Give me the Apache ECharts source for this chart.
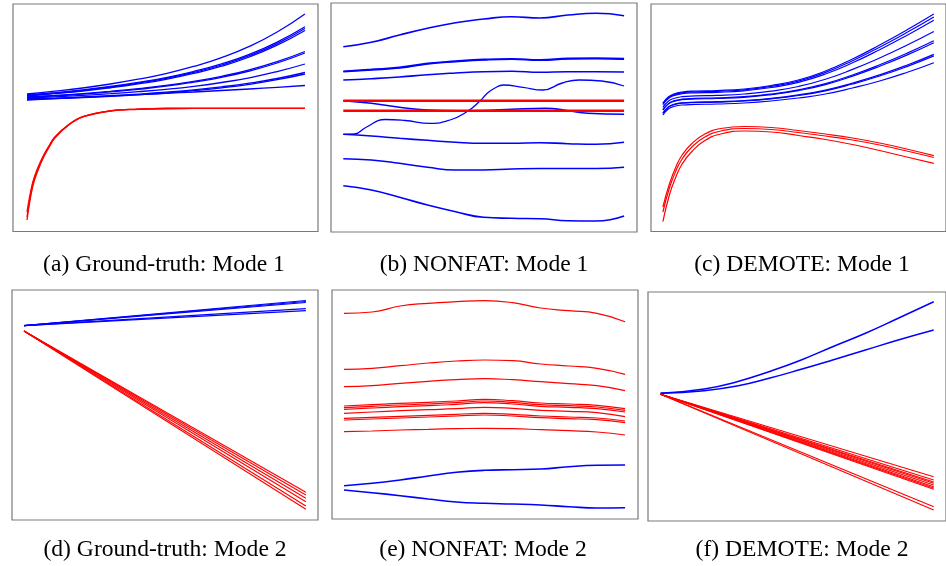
<!DOCTYPE html>
<html><head><meta charset="utf-8">
<script src="https://cdn.jsdelivr.net/npm/echarts@6/dist/echarts.min.js"></script>
<style>html,body{margin:0;padding:0;background:#fff}#c{width:946px;height:566px}</style>
</head><body><div id="c"></div>
<script>
// ---------- captions ----------
const captions = ['(a) Ground-truth: Mode 1','(b) NONFAT: Mode 1','(c) DEMOTE: Mode 1',
                  '(d) Ground-truth: Mode 2','(e) NONFAT: Mode 2','(f) DEMOTE: Mode 2'];

// ---------- panel (a) ----------
const xA_blue = [0,10,20,30,40,50,60,70,80,90,100];
const aBlue = [
 [137,139.8,143,147,151.8,157.4,164.6,173.4,184.6,199,217],
 [136,138.4,141.1,144.5,148.6,153.4,159.6,167.1,176.6,188.9,204.3],
 [135.5,137.8,140.5,143.9,147.9,152.6,158.6,166,175.4,187.4,202.5],
 [135,137.3,139.9,143.2,147.1,151.7,157.6,164.8,174,185.8,200.5],
 [134,135.6,137.4,139.7,142.4,145.6,149.7,154.7,161.1,169.3,179.5],
 [133.5,135.1,136.8,139.1,141.7,144.8,148.9,153.7,160,168,178],
 [133,134.2,135.6,137.3,139.3,141.7,144.7,148.5,153.2,159.4,167],
 [132,132.9,134,135.3,136.9,138.8,141.1,144.1,147.8,152.5,158.5],
 [131.5,132.4,133.4,134.7,136.2,138,140.3,143.1,146.7,151.3,157],
 [131,132.3,133.6,135,136.3,137.7,139,140.5,142,143.7,145.5]
];
const xA_red = [0,2,4,6,8,10,15,20,30,40,50,70,100];
const aRed = [
 [11,44,61,74,84,93,106,114,120,121.7,122.5,122.7,122.7],
 [14,46,62.5,75,85,93.5,106.3,114.2,120.1,121.8,122.5,122.7,122.7],
 [19,48,64,76,85.5,94,106.5,114.4,120.2,121.8,122.5,122.7,122.7]
];

// ---------- panel (b) ----------
const xB = [0,10,20,30,40,50,60,70,80,90,100];
const bBlue = [
 [185.3,189.7,197,203.7,209.3,213,215.3,214,217,218.7,216.3],
 [160.3,162,164,168,170.3,172,172.7,171.7,173,173.3,172.7],
 [160.8,162.6,164.6,168.6,170.9,172.6,173.3,172.3,173.6,174,173.4],
 [152,153.3,155,157.3,159,160.3,160.7,159.7,160.3,160.3,160],
 [97.7,96,93.7,91.7,89.7,88.7,88.7,89.3,88.3,87.7,89.7],
 [73.3,72,68.7,64.7,62,62,63,63.5,63.5,63.5,64.7],
 [46.3,42,34.7,27,20.3,14.7,13.7,13.3,11.3,11,16]
];
const xB_wave1 = [0,10,20,30,40,50,60,72,80,87,100];
const bWave1 = [131.3,128.7,124.7,122,121.3,121.5,122.7,123.7,121.3,118.7,117.7];
const xB_wave2 = [0,4,8,15,22,31,38,44,48.7,51,54,57,64,71,78,84,92,100];
const bWave2 = [97.7,98,104.5,112.5,111.5,108.7,112,120.3,131,138,144,147,144.7,142,149,152,151,146];
const xB_red = [0,100];
const bRed = [[131.3,131.3],[121.3,121.3]];

// ---------- panel (c) ----------
const xC_blue = [0,2,4,7,12,20,30,40,50,60,70,80,90,100];
const cBlue = [
 [129,135,138,140,141,141.5,143,146.5,152,161,173,187,202,218],
 [128.3,134.3,137.2,139.2,140.2,140.7,142.2,145.6,150.9,159.6,171.3,184.8,199.4,215],
 [127.4,133.4,136.4,138.3,139.2,139.7,141.2,144.5,149.7,158,169.2,182.3,196.5,211.7],
 [124.7,130.7,133.5,135.3,136.1,136.6,138,140.9,145.5,152.7,162.6,174,186.7,200.5],
 [122.4,128.4,131.1,132.8,133.6,134.1,135.3,138,142.1,148.3,157,167.2,178.6,191.2],
 [121.9,127.9,130.6,132.3,133,133.5,134.7,137.4,141.4,147.4,155.9,165.8,176.9,189.3],
 [119,125,127.6,129.2,129.8,130.3,131.4,133.6,137.1,141.9,148.9,157.1,166.7,177.6],
 [118.7,124.7,127.2,128.8,129.4,129.9,131,133.2,136.5,141.2,148,156,165.4,176.1],
 [117,123,125.5,127,127.5,128,129,131,134,138,144,151,159.5,169.3]
];
const xC_red = [0,2.4,4.8,7.1,10.7,15.5,21.4,30,40,50,60,70,80,90,100];
const cRed = [
 [25,48,65,77,88.5,98,103.5,105.5,104.5,101.5,98,94,89,83,76.3],
 [20,44,61,73,85,95,101,103.5,102.5,99.5,96,92,87,81,74.5],
 [10.3,37,55,68,80.5,91.5,98,101,100,96.5,92.5,87.5,81.5,75,68.7]
];

// ---------- panel (d) ----------
const xD = [0,100];
const dBlue = [[194.3,219.5],[194.3,218.5],[194.3,217.5],[194.3,211.3],[194.3,209.3]];
const dRed = [[189,27.7],[189,25],[189,21.7],[189,18.3],[189,14],[189,10.7]];

// ---------- panel (e) ----------
const xE = [0,10,20,30,40,50,60,70,80,90,100];
const eRed = [
 [206.7,208,214,216.7,218.3,219.3,217.3,212,209.3,206.7,198.3],
 [150.7,151.7,154.3,157,159,160,159.3,156,154,151.7,145.7],
 [133.3,134.3,136.7,138.7,140.3,141.3,140.3,138.3,136.3,134.3,129.3],
 [114,115.3,116.7,117.7,119,120.7,119.3,117,116,114.7,111.3],
 [112.3,113.6,115,116,117.3,119,117.6,115.3,114.3,113,109.6],
 [110.7,112,113.3,114.3,115.7,117.3,116,113.7,112.7,111.3,108],
 [106.7,108,109.3,110.3,111.3,112.7,111.7,109.7,108.7,107.3,103.3],
 [101.7,102.7,103.7,104.7,105.7,106.7,105.7,104,103,102,99],
 [100,101,102,103,104,105,104,102.3,101.3,100.3,97.3],
 [88.3,89,90,90.7,91.3,91.7,91.3,90.3,89.3,88,85]
];
const eBlue = [
 [34.3,36.7,40,44,47.7,49.7,50.3,51,53.3,54.7,55],
 [30,27.3,24.3,21,18,16.7,16,15,13.3,12,12.3]
];

// ---------- panel (f) ----------
const xF_blue1 = [0,16,28,39.7,51.5,63,75,87,100];
const fBlue1 = [127.7,132,139.3,149.3,161,174.3,187.7,202.7,219.3];
const xF_blue2 = [0,16,28,39.7,51.5,63,75,87,100];
const fBlue2 = [127.7,130.3,135,142.7,151.7,161,171,181,191];
const xF_red = [0,100];
const fRed = [[126.7,44.3],[126.7,41],[126.7,39],[126.7,37.7],[126.7,36],[126.7,34.3],[126.7,33],[126.7,31.7],[126.7,14.3],[126.7,11]];

// ---------- layout (positions / styles) ----------
const layout = [
 {left:13,  top:4,   width:305,   height:227.5, xMin:-5.04, xMax:104.7, yMin:-0.5, yMax:227, cx:164, cy:265},
 {left:331, top:3,   width:306,   height:229,   xMin:-4.38, xMax:104.6, yMin:0,    yMax:229, cx:484, cy:265},
 {left:651, top:4,   width:304.9, height:227.5, xMin:-4.39, xMax:104.5, yMin:0.5,  yMax:228, cx:802, cy:265},
 {left:12,  top:290, width:306,   height:230,   xMin:-4.26, xMax:104.3, yMin:0,    yMax:230, cx:165, cy:549.5},
 {left:332, top:290, width:306,   height:229,   xMin:-4.27, xMax:104.6, yMin:1,    yMax:230, cx:483, cy:549.5},
 {left:648, top:292, width:308.7, height:229,   xMin:-4.6,  xMax:104.5, yMin:0,    yMax:229, cx:802, cy:549.5}
];
const BLUE = '#0000ff', RED = '#ff0000';

function pairs(xs, ys){ return xs.map((x,i)=>[x, ys[i]]); }
const series = [];
function add(p, xs, ys, color, w, smooth){
  series.push({type:'line', xAxisIndex:p, yAxisIndex:p, data:pairs(xs,ys), showSymbol:false, symbol:'none',
    smooth: smooth, silent:true, animation:false,
    lineStyle:{color:color, width:w}});
}
aBlue.forEach(y=>add(0,xA_blue,y,BLUE,1.3,0.5));
aRed.forEach(y=>add(0,xA_red,y,RED,1.3,0.4));
bBlue.forEach(y=>add(1,xB,y,BLUE,1.6,0.5));
add(1,xB_wave1,bWave1,BLUE,1.6,0.5);
add(1,xB_wave2,bWave2,BLUE,1.3,0.5);
bRed.forEach(y=>add(1,xB_red,y,RED,2.4,false));
cBlue.forEach(y=>add(2,xC_blue,y,BLUE,1.2,0.5));
cRed.forEach(y=>add(2,xC_red,y,RED,1.2,0.5));
dBlue.forEach(y=>add(3,xD,y,BLUE,1.2,false));
dRed.forEach(y=>add(3,xD,y,RED,1.1,false));
eRed.forEach(y=>add(4,xE,y,RED,1.2,0.5));
eBlue.forEach(y=>add(4,xE,y,BLUE,1.6,0.5));
add(5,xF_blue1,fBlue1,BLUE,1.5,0.5);
add(5,xF_blue2,fBlue2,BLUE,1.5,0.5);
fRed.forEach(y=>add(5,xF_red,y,RED,1.1,false));

const option = {
  backgroundColor:'#fff',
  animation:false,
  grid: layout.map(l=>({left:l.left, top:l.top, width:l.width, height:l.height, show:true,
      borderColor:'#7a7a7a', borderWidth:1.2, backgroundColor:'transparent', containLabel:false})),
  xAxis: layout.map((l,i)=>({type:'value', gridIndex:i, min:l.xMin, max:l.xMax, show:false})),
  yAxis: layout.map((l,i)=>({type:'value', gridIndex:i, min:l.yMin, max:l.yMax, show:false})),
  series: series,
  graphic: layout.map((l,i)=>({type:'text', x:l.cx, y:l.cy, silent:true,
      style:{text:captions[i], font:'23.6px "Liberation Serif", "Times New Roman", serif', fill:'#000',
             textAlign:'center', textVerticalAlign:'middle', align:'center', verticalAlign:'middle'}}))
};
const chart = echarts.init(document.getElementById('c'), null, {renderer:'canvas'});
chart.setOption(option);
</script></body></html>
